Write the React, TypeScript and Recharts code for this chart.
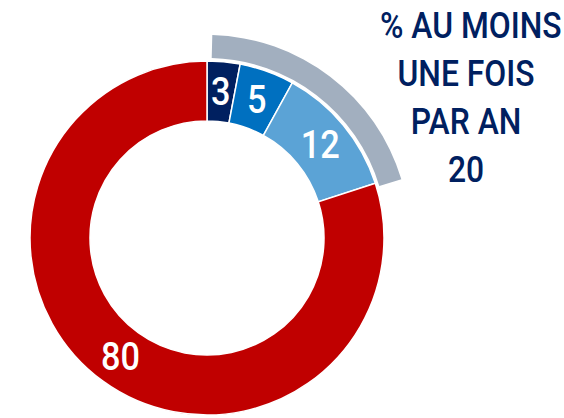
import { PieChart, Pie, Cell } from 'recharts';

const labels = ['3', '5', '12', '80'];
const values = [3, 5, 12, 80];
const colors = ['#002060', '#0070C0', '#5BA3D6', '#C00000'];

const summaryValues = [20, 80];
const summaryColors = ['#A2AFBF', 'transparent'];

const titleLines = ['% AU MOINS', 'UNE FOIS', 'PAR AN', '20'];

const FONT = 'Roboto, "DejaVu Sans", sans-serif';
const RAD = Math.PI / 180;

const data = labels.map((name, i) => ({ name, value: values[i] }));
const summary = summaryValues.map((value, i) => ({ name: `s${i}`, value }));

function renderLabel(props: any) {
  const { cx, cy, midAngle, innerRadius, outerRadius, index } = props;
  const r = (innerRadius + outerRadius) / 2;
  const x = cx + r * Math.cos(-midAngle * RAD);
  const y = cy + r * Math.sin(-midAngle * RAD);
  return (
    <text
      x={x}
      y={y}
      fill="#fff"
      textAnchor="middle"
      dominantBaseline="central"
      transform={`translate(${x} 0) scale(0.88 1) translate(${-x} 0)`}
      style={{ fontFamily: FONT, fontSize: 39, fontWeight: 500 }}
    >
      {labels[index]}
    </text>
  );
}

export default function App() {
  return (
    <div style={{ position: 'absolute', left: 0, top: 0, width: 564, height: 418, background: '#fff' }}>
      <PieChart width={564} height={418} margin={{ top: 0, right: 0, bottom: 0, left: 0 }}>
        <Pie
          data={summary}
          dataKey="value"
          cx={207}
          cy={238}
          innerRadius={180}
          outerRadius={203}
          startAngle={88.5}
          endAngle={-270}
          stroke="none"
          isAnimationActive={false}
        >
          {summary.map((d, i) => (
            <Cell key={d.name} fill={summaryColors[i]} />
          ))}
        </Pie>
        <Pie
          data={data}
          dataKey="value"
          cx={207}
          cy={238}
          innerRadius={117}
          outerRadius={177}
          startAngle={90}
          endAngle={-270}
          stroke="#fff"
          strokeWidth={1.5}
          label={renderLabel}
          labelLine={false}
          isAnimationActive={false}
        >
          {data.map((d, i) => (
            <Cell key={d.name} fill={colors[i]} />
          ))}
        </Pie>
      </PieChart>
      <div
        style={{
          position: 'absolute',
          left: 366,
          top: 2,
          width: 200,
          textAlign: 'center',
          fontFamily: FONT,
          fontSize: 37,
          fontWeight: 500,
          lineHeight: '48px',
          color: '#002060',
          whiteSpace: 'nowrap',
          transform: 'scaleX(0.86)',
        }}
      >
        {titleLines.map((t) => (
          <div key={t}>{t}</div>
        ))}
      </div>
    </div>
  );
}
